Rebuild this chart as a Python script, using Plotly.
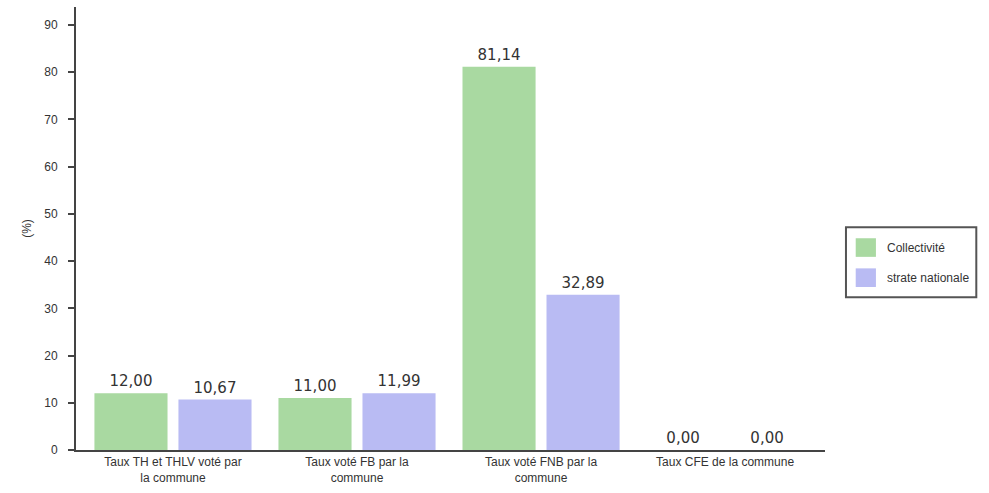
import plotly.graph_objects as go

# Tax rates (%) for each category
categories = [
    "Taux TH et THLV voté par<br>la commune",
    "Taux voté FB par la<br>commune",
    "Taux voté FNB par la<br>commune",
    "Taux CFE de la commune",
]
collectivite = [12.00, 11.00, 81.14, 0.00]
strate_nationale = [10.67, 11.99, 32.89, 0.00]
series_names = ["Collectivité", "strate nationale"]
series_colors = ["#a9d9a1", "#b9bbf3"]
y_ticks = [0, 10, 20, 30, 40, 50, 60, 70, 80, 90]

fig = go.Figure()
for name, values, color in zip(series_names, [collectivite, strate_nationale], series_colors):
    fig.add_trace(go.Bar(
        x=categories,
        y=values,
        name=name,
        marker=dict(color=color, line=dict(width=0)),
        texttemplate="%{y:.2f}",
        textposition="outside",
        cliponaxis=False,
        textfont=dict(family="DejaVu Sans", size=15, color="#333333"),
        showlegend=False,
    ))

fig.update_layout(
    width=989,
    height=493,
    margin=dict(l=76, r=164, t=7, b=43),
    paper_bgcolor="white",
    plot_bgcolor="white",
    barmode="group",
    bargap=0.087,
    bargroupgap=0.13,
    separators=", ",
    font=dict(family="Liberation Sans, Arial, sans-serif", size=12, color="#333333"),
    xaxis=dict(
        showline=True,
        linecolor="#444444",
        linewidth=2,
        showgrid=False,
        ticks="",
        tickfont=dict(size=12, color="#333333"),
        range=[-0.527, 3.543],
    ),
    yaxis=dict(
        range=[0, 93.8],
        tickvals=y_ticks,
        showline=True,
        linecolor="#444444",
        linewidth=2,
        showgrid=False,
        zeroline=False,
        ticks="outside",
        ticklen=6,
        tickwidth=2,
        tickcolor="#444444",
        ticklabelstandoff=8,
        tickfont=dict(size=12, color="#333333"),
        title=dict(text="(%)", font=dict(size=12, color="#333333"), standoff=10),
    ),
)

# Legend box drawn at the right of the plot
fig.add_shape(type="rect", xref="paper", yref="paper",
              x0=1.028, x1=1.202, y0=0.345, y1=0.503,
              line=dict(color="#555555", width=2), fillcolor="white")
row_y = [0.457, 0.389]
for name, color, yc in zip(series_names, series_colors, row_y):
    fig.add_shape(type="rect", xref="paper", yref="paper",
                  x0=1.041, x1=1.068, y0=yc - 0.021, y1=yc + 0.021,
                  line=dict(width=0), fillcolor=color)
    fig.add_annotation(xref="paper", yref="paper", x=1.080, y=yc,
                       text=name, showarrow=False, xanchor="left", yanchor="middle",
                       font=dict(size=12, color="#333333"))

fig.write_html("out.html")
